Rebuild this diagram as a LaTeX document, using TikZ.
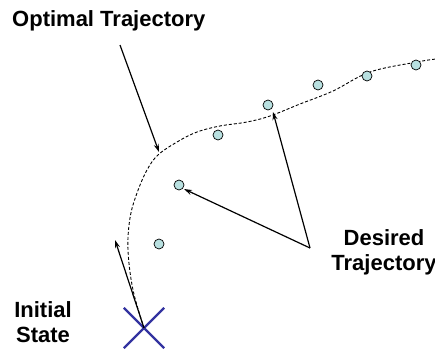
\documentclass[tikz,border=0pt]{standalone}
\usepackage{fontspec}
\setmainfont{Liberation Sans}
\usetikzlibrary{arrows.meta}
\definecolor{dotfill}{RGB}{184,224,224}
\definecolor{crossblue}{RGB}{51,51,160}
\tikzset{
  dotnode/.style={circle,draw=black,line width=0.7pt,fill=dotfill,minimum size=10pt,inner sep=0pt},
  lbl/.style={font=\fontsize{22}{25}\selectfont\bfseries,align=center,inner sep=0pt},
  pointer/.style={line width=1.2pt,-{Stealth[length=8pt,width=5pt]}},
  traj/.style={line width=0.9pt,dash pattern=on 3pt off 2pt},
}
\begin{document}
\begin{tikzpicture}[x=1pt,y=-1pt]
\useasboundingbox (0,0) rectangle (435,350);
% labels
\node[lbl,anchor=west] (opt) at (12,21) {Optimal Trajectory};
\node[lbl] (des) at (384,252) {Desired\\Trajectory};
\node[lbl] (init) at (43,322) {Initial\\State};
% initial state cross
\node[minimum size=40pt,inner sep=0pt] (x0) at (144,328) {};
\draw[crossblue,line width=2.2pt] (x0.north west) -- (x0.south east)
  (x0.north east) -- (x0.south west);
% optimal trajectory (dashed)
\draw[traj] plot[smooth,tension=0.6] coordinates {(144,328) (133,290) (128,250) (130,218) (137,193) (147,170) (158,155) (177,142) (197,132) (220,126) (247,122) (270,116) (300,104) (333,91) (370,72) (417,62) (436,59)};
% desired trajectory dots
\node[dotnode] (c1) at (159,244) {};
\node[dotnode] (c2) at (179,185) {};
\node[dotnode] (c3) at (218,135) {};
\node[dotnode] (c4) at (268,105) {};
\node[dotnode] (c5) at (318,85) {};
\node[dotnode] (c6) at (367,76) {};
\node[dotnode] (c7) at (416,65) {};
% pointers
\coordinate (optstart) at (120,45);
\coordinate (optend) at (159,152);
\draw[pointer] (optstart) -- (optend);
\coordinate (apex) at (310,248);
\draw[pointer] (apex) -- ([shift={(5pt,-4pt)}]c2.center);
\coordinate (apex2) at (273,112);
\draw[pointer] (apex) -- (apex2);
\coordinate (x0dir) at (115,240);
\draw[pointer] (x0.center) -- (x0dir);
\end{tikzpicture}
\end{document}
